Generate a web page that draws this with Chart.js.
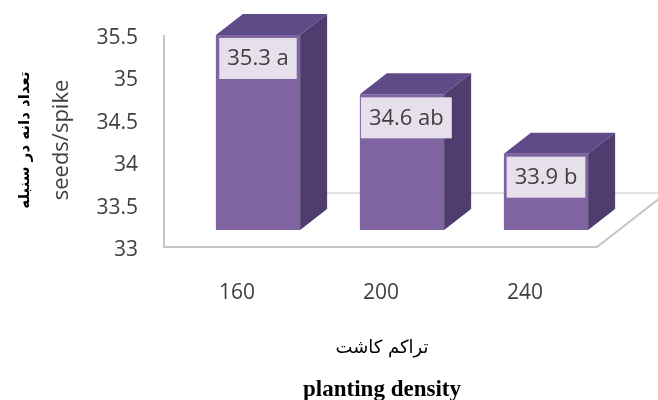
<!DOCTYPE html>
<html lang="fa">
<head>
    <meta charset="UTF-8">
    <title>seeds/spike</title>
    <script src="https://cdn.jsdelivr.net/npm/chart.js"></script>
    <style>
        body {
            margin: 0;
            padding: 0;
            background-color: white;
        }
        .chart-container {
            width: 658px;
            height: 400px;
            position: relative;
        }
    </style>
</head>
<body>
    <div class="chart-container">
        <canvas id="seedChart"></canvas>
    </div>

    <script>
        // data
        const densities = ['160', '200', '240'];
        const seedsPerSpike = [35.3, 34.6, 33.9];
        const groupLetters = ['a', 'ab', 'b'];
        const yMin = 33;
        const yMax = 35.5;
        const yStep = 0.5;

        const yTitleFa = 'تعداد دانه در سنبله';
        const yTitleEn = 'seeds/spike';
        const xTitleFa = 'تراکم کاشت';
        const xTitleEn = 'planting density';

        // 3d depth of the bars
        const depthX = 27;
        const depthY = -21;

        const frontColor = '#8064a2';
        const topColor = '#5f4b88';
        const sideColor = '#4f3d70';
        const textColor = '#404040';

        // floor and wall lines behind the bars
        const floorPlugin = {
            id: 'floor',
            beforeDatasetsDraw(chart) {
                const { ctx, chartArea } = chart;
                const left = chartArea.left - 22;
                const front = chartArea.bottom + 17;
                const back = chartArea.bottom - 37;
                const corner = chartArea.right - 21;
                ctx.save();
                ctx.lineWidth = 2;
                ctx.strokeStyle = '#c4c4c4';
                ctx.beginPath();
                ctx.moveTo(left, chartArea.top + 17);
                ctx.lineTo(left, front);
                ctx.lineTo(corner, front);
                ctx.lineTo(corner + (front - back) * depthX / -depthY, back);
                ctx.stroke();
                ctx.lineWidth = 1.5;
                ctx.strokeStyle = '#dadada';
                ctx.beginPath();
                ctx.moveTo(chartArea.left + 40, back);
                ctx.lineTo(chart.width, back);
                ctx.stroke();
                ctx.restore();
            }
        };

        // top and side faces plus value boxes
        const boxPlugin = {
            id: 'box3d',
            afterDatasetsDraw(chart) {
                const { ctx } = chart;
                const meta = chart.getDatasetMeta(0);
                ctx.save();
                meta.data.forEach((bar, i) => {
                    const l = bar.x - bar.width / 2;
                    const r = bar.x + bar.width / 2;
                    const t = bar.y;
                    const b = bar.base;

                    ctx.fillStyle = topColor;
                    ctx.beginPath();
                    ctx.moveTo(l, t);
                    ctx.lineTo(r, t);
                    ctx.lineTo(r + depthX, t + depthY);
                    ctx.lineTo(l + depthX, t + depthY);
                    ctx.closePath();
                    ctx.fill();

                    ctx.fillStyle = sideColor;
                    ctx.beginPath();
                    ctx.moveTo(r, t);
                    ctx.lineTo(r + depthX, t + depthY);
                    ctx.lineTo(r + depthX, b + depthY);
                    ctx.lineTo(r, b);
                    ctx.closePath();
                    ctx.fill();

                    const label = seedsPerSpike[i].toFixed(1) + ' ' + groupLetters[i];
                    ctx.font = '22px "Open Sans", sans-serif';
                    const w = ctx.measureText(label).width + 16;
                    const bx = Math.max(l + 1, bar.x - w / 2);
                    ctx.fillStyle = '#e6e0ec';
                    ctx.fillRect(bx, t + 3, w, 41);
                    ctx.fillStyle = textColor;
                    ctx.textAlign = 'left';
                    ctx.textBaseline = 'middle';
                    ctx.fillText(label, bx + 8, t + 24);
                });
                ctx.restore();
            }
        };

        // axis titles, fa + en lines
        const titlePlugin = {
            id: 'axisTitles',
            afterDraw(chart) {
                const { ctx, chartArea } = chart;
                ctx.save();
                ctx.fillStyle = '#000';
                ctx.textAlign = 'center';
                ctx.textBaseline = 'middle';

                const cx = (chartArea.left + chartArea.right) / 2 - 20;
                ctx.font = '18px "DejaVu Sans"';
                ctx.fillText(xTitleFa, cx, chartArea.bottom + 118);
                ctx.font = 'bold 23px "Liberation Serif", serif';
                ctx.textBaseline = 'alphabetic';
                ctx.fillText(xTitleEn, cx, chartArea.bottom + 166);

                const cy = (chartArea.top + chartArea.bottom) / 2 + 16;
                ctx.textBaseline = 'middle';
                ctx.translate(25, cy);
                ctx.rotate(-Math.PI / 2);
                ctx.font = 'bold 15px "DejaVu Sans"';
                ctx.fillText(yTitleFa, 0, 0);
                ctx.fillStyle = textColor;
                ctx.font = '22px "Open Sans", sans-serif';
                ctx.fillText(yTitleEn, 0, 37);
                ctx.restore();
            }
        };

        const ctx = document.getElementById('seedChart').getContext('2d');
        new Chart(ctx, {
            type: 'bar',
            data: {
                labels: densities,
                datasets: [{
                    data: seedsPerSpike,
                    base: yMin,
                    backgroundColor: frontColor,
                    borderWidth: 0,
                    categoryPercentage: 1,
                    barPercentage: 0.585
                }]
            },
            plugins: [floorPlugin, boxPlugin, titlePlugin],
            options: {
                responsive: true,
                maintainAspectRatio: false,
                animation: false,
                layout: {
                    padding: { top: 18, right: 40, left: 0, bottom: 0 }
                },
                plugins: {
                    legend: { display: false },
                    tooltip: { enabled: false }
                },
                scales: {
                    x: {
                        // tick marks hidden, tickLength only spaces the labels
                        grid: { display: false, drawTicks: true, tickLength: 50 },
                        border: { display: false },
                        ticks: {
                            color: textColor,
                            font: { family: 'Open Sans', size: 21 },
                            padding: 0,
                            labelOffset: -21
                        },
                        afterFit(scale) { scale.height = 170; }
                    },
                    y: {
                        min: yMin,
                        max: yMax,
                        beginAtZero: false,
                        grid: { display: false, drawTicks: true, tickLength: 48 },
                        border: { display: false },
                        ticks: {
                            stepSize: yStep,
                            color: textColor,
                            font: { family: 'Open Sans', size: 21 },
                            padding: 0,
                            labelOffset: 20,
                            callback: (v) => String(v)
                        },
                        afterFit(scale) { scale.width = 186; }
                    }
                }
            }
        });
    </script>
</body>
</html>
